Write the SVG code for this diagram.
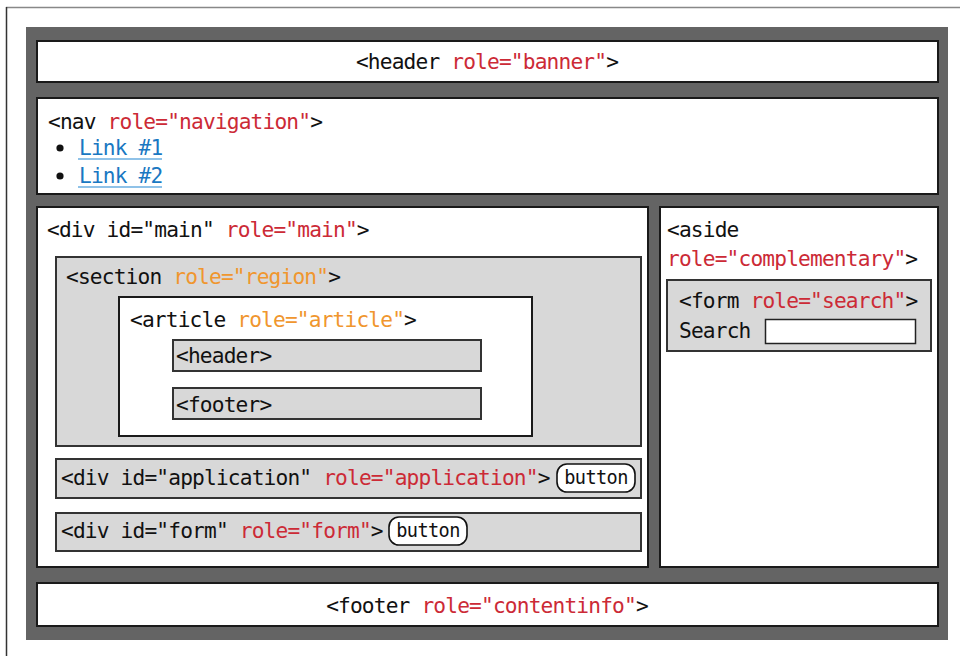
<svg xmlns="http://www.w3.org/2000/svg" width="960" height="656" viewBox="0 0 960 656">
<defs>
<style>
text{font-family:"DejaVu Sans Mono","Liberation Mono",monospace;font-size:21.2px;letter-spacing:-0.84px;fill:#111}
.r{fill:#cc2a36}
.o{fill:#f0962e}
.lk{fill:#1a78c2}
.bt{font-size:18.6px;letter-spacing:-0.6px;text-anchor:middle}
.w{fill:#fff;stroke:#1a1a1a;stroke-width:2}
.g{fill:#d8d8d8;stroke:#333;stroke-width:2}
.btn{fill:#fff;stroke:#111;stroke-width:1.6}
.ul{stroke:#6aaee0;stroke-width:1.6}
</style>
</defs>
<rect x="0" y="0" width="960" height="656" fill="#fff"/>
<line x1="6" y1="7.5" x2="960" y2="7.5" stroke="#888" stroke-width="1.5"/>
<line x1="6.5" y1="7" x2="6.5" y2="656" stroke="#333" stroke-width="1.5"/>
<rect x="26" y="27" width="922" height="613" fill="#646464"/>

<g id="page-header">
<rect class="w" x="37" y="41" width="901" height="41"/>
<text x="487" y="69" text-anchor="middle">&lt;header <tspan class="r">role="banner"</tspan>&gt;</text>
</g>

<g id="nav">
<rect class="w" x="37" y="98" width="901" height="96"/>
<text x="48" y="129">&lt;nav <tspan class="r">role="navigation"</tspan>&gt;</text>
<circle cx="60" cy="148" r="3.6" fill="#111"/>
<circle cx="60" cy="176" r="3.6" fill="#111"/>
<text class="lk" x="79" y="155">Link #1</text>
<text class="lk" x="79" y="183">Link #2</text>
<line class="ul" x1="78" y1="159" x2="162" y2="159"/>
<line class="ul" x1="78" y1="187" x2="162" y2="187"/>
</g>

<g id="main">
<rect class="w" x="37" y="207" width="611" height="360"/>
<text x="47" y="237">&lt;div id="main" <tspan class="r">role="main"</tspan>&gt;</text>
</g>

<g id="section">
<rect class="g" x="56" y="257" width="585" height="189"/>
<text x="66" y="284">&lt;section <tspan class="o">role="region"</tspan>&gt;</text>
</g>

<g id="article">
<rect class="w" x="119" y="297" width="413" height="139"/>
<text x="130" y="327">&lt;article <tspan class="o">role="article"</tspan>&gt;</text>
</g>

<g id="article-header">
<rect class="g" x="173" y="340" width="308" height="31"/>
<text x="176" y="363">&lt;header&gt;</text>
</g>

<g id="article-footer">
<rect class="g" x="173" y="388" width="308" height="31"/>
<text x="176" y="412">&lt;footer&gt;</text>
</g>

<g id="application">
<rect class="g" x="56" y="459" width="585" height="39"/>
<text x="61" y="485">&lt;div id="application" <tspan class="r">role="application"</tspan>&gt;</text>
<rect class="btn" x="557" y="464" width="78" height="28" rx="10"/>
<text class="bt" x="596" y="484">button</text>
</g>

<g id="form">
<rect class="g" x="56" y="513" width="585" height="38"/>
<text x="61" y="538">&lt;div id="form" <tspan class="r">role="form"</tspan>&gt;</text>
<rect class="btn" x="389" y="517" width="78" height="28" rx="10"/>
<text class="bt" x="428" y="537">button</text>
</g>

<g id="aside">
<rect class="w" x="660" y="207" width="278" height="360"/>
<text x="667" y="237">&lt;aside</text>
<text x="667" y="266"><tspan class="r">role="complementary"</tspan>&gt;</text>
</g>

<g id="search">
<rect class="g" x="667" y="280" width="264" height="71"/>
<text x="679" y="308">&lt;form <tspan class="r">role="search"</tspan>&gt;</text>
<text x="679" y="338">Search</text>
<rect x="765.5" y="319.5" width="150" height="24" fill="#fff" stroke="#222" stroke-width="1.5"/>
</g>

<g id="page-footer">
<rect class="w" x="37" y="583" width="901" height="43"/>
<text x="487" y="613" text-anchor="middle">&lt;footer <tspan class="r">role="contentinfo"</tspan>&gt;</text>
</g>

<g id="connectors"></g>
</svg>
